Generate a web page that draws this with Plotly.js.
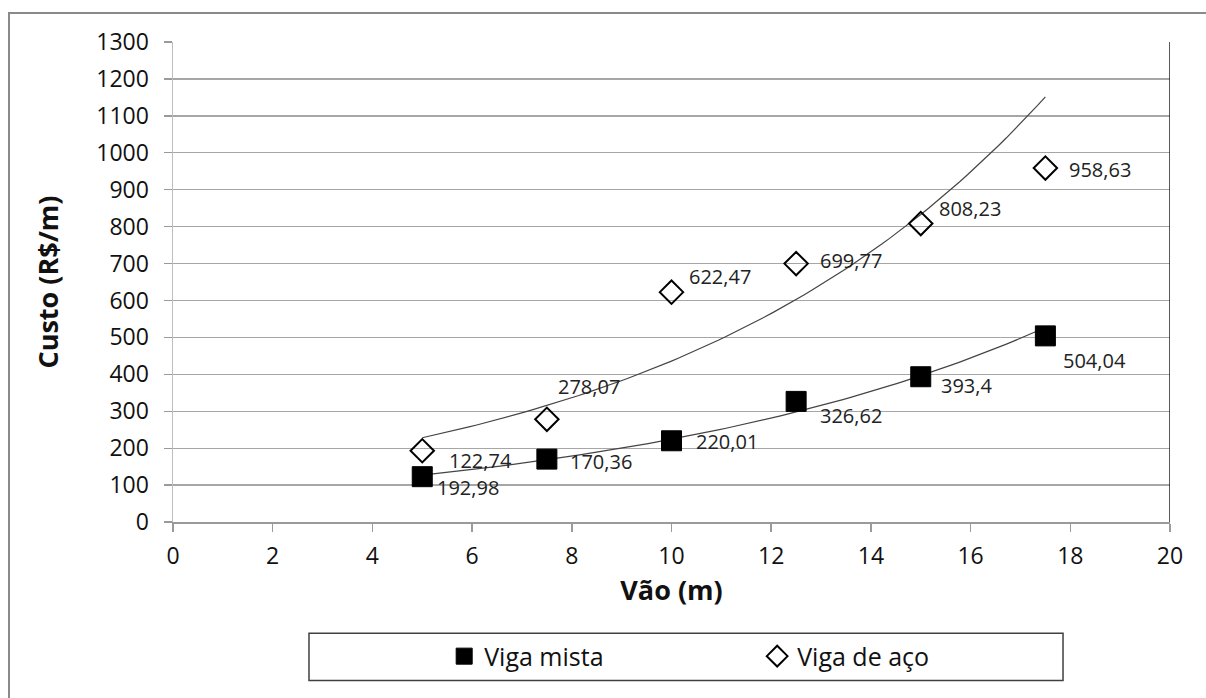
<!DOCTYPE html>
<html>
<head>
<meta charset="utf-8">
<script src="https://cdn.plot.ly/plotly-3.0.1.min.js"></script>
<style>
  html, body { margin: 0; padding: 0; background: #fff; overflow: hidden; }
  #wrap { position: relative; width: 1206px; height: 698px; }
  #chart { position: absolute; left: 0; top: 0; width: 1206px; height: 698px; }
  #frame { position: absolute; left: 8px; top: 12px; width: 1300px; height: 800px;
           border-left: 2px solid #8a8a8a; border-top: 2px solid #8a8a8a; pointer-events: none; }
</style>
</head>
<body>
<div id="wrap">
  <div id="chart"></div>
  <div id="frame"></div>
</div>
<script>
// ---- data ----
const vao = [5, 7.5, 10, 12.5, 15, 17.5];
const custoMista = [122.74, 170.36, 220.01, 326.62, 393.4, 504.04];
const custoAco = [192.98, 278.07, 622.47, 699.77, 808.23, 958.63];
const rotulosMista = ['192,98', '170,36', '220,01', '326,62', '393,4', '504,04'];
const rotulosAco = ['122,74', '278,07', '622,47', '699,77', '808,23', '958,63'];
const serieMista = 'Viga mista';
const serieAco = 'Viga de aço';
const tituloX = 'Vão (m)';
const tituloY = 'Custo (R$/m)';

// label offsets in pixels (style only)
const offMista = [[13, -11], [21, -2], [22, -1], [22, -14], [18, -9], [16, -25]];
const offAco = [[25, -10], [9, 33], [15, 16], [22, 3], [16, 15], [22, -1]];

// exponential trendline (least squares on ln y), like Excel
function expTrend(xs, ys) {
  const n = xs.length;
  const ly = ys.map(v => Math.log(v));
  const mx = xs.reduce((a, b) => a + b, 0) / n;
  const my = ly.reduce((a, b) => a + b, 0) / n;
  let sxy = 0, sxx = 0;
  for (let i = 0; i < n; i++) { sxy += (xs[i] - mx) * (ly[i] - my); sxx += (xs[i] - mx) ** 2; }
  const b = sxy / sxx, a = my - b * mx;
  const x0 = Math.min(...xs), x1 = Math.max(...xs);
  const tx = [], ty = [];
  const steps = 80;
  for (let k = 0; k <= steps; k++) {
    const x = x0 + (x1 - x0) * k / steps;
    tx.push(x); ty.push(Math.exp(a + b * x));
  }
  return { x: tx, y: ty };
}
const tM = expTrend(vao, custoMista);
const tA = expTrend(vao, custoAco);

const FONT = 'Open Sans, Lato, sans-serif';

const traces = [
  { x: tM.x, y: tM.y, mode: 'lines', line: { color: '#444', width: 1.2 }, showlegend: false, hoverinfo: 'skip' },
  { x: tA.x, y: tA.y, mode: 'lines', line: { color: '#444', width: 1.2 }, showlegend: false, hoverinfo: 'skip' },
  { x: vao, y: custoMista, name: serieMista, mode: 'markers', type: 'scatter',
    marker: { symbol: 'square', size: 20, color: '#000', line: { color: '#000', width: 1 } } },
  { x: vao, y: custoAco, name: serieAco, mode: 'markers', type: 'scatter',
    marker: { symbol: 'diamond-open', size: 18, color: '#000', line: { color: '#000', width: 2 } } }
];

const annotations = [];
vao.forEach((x, i) => {
  annotations.push({ x: x, y: custoMista[i], xref: 'x', yref: 'y', text: rotulosMista[i], showarrow: false,
    xanchor: 'left', yanchor: 'middle', xshift: offMista[i][0], yshift: offMista[i][1],
    font: { family: FONT, size: 20, color: '#222' } });
  annotations.push({ x: x, y: custoAco[i], xref: 'x', yref: 'y', text: rotulosAco[i], showarrow: false,
    xanchor: 'left', yanchor: 'middle', xshift: offAco[i][0], yshift: offAco[i][1],
    font: { family: FONT, size: 20, color: '#222' } });
});

const layout = {
  width: 1206, height: 698,
  margin: { l: 173, r: 36, t: 42, b: 176 },
  paper_bgcolor: '#fff', plot_bgcolor: '#fff',
  font: { family: FONT, color: '#111' },
  showlegend: true,
  legend: {
    orientation: 'h', x: 0.272, xanchor: 'left', y: -0.28, yanchor: 'middle',
    bgcolor: 'rgba(0,0,0,0)', borderwidth: 0,
    font: { family: FONT, size: 25, color: '#111' },
    entrywidth: 268, entrywidthmode: 'pixels'
  },
  xaxis: {
    range: [0, 20], dtick: 2, tick0: 0,
    showgrid: false, zeroline: false,
    showline: true, linecolor: '#9a9a9a', linewidth: 1.5,
    ticks: 'outside', ticklen: 8, tickcolor: '#9a9a9a', tickwidth: 1.5,
    ticklabelstandoff: 5,
    tickfont: { family: FONT, size: 23, color: '#111' },
    title: { text: tituloX, font: { family: FONT, size: 27, color: '#111', weight: 'bold' }, standoff: 10 }
  },
  yaxis: {
    range: [0, 1300], dtick: 100, tick0: 0,
    showgrid: true, gridcolor: '#a6a6a6', gridwidth: 1.3,
    zeroline: false,
    showline: true, linecolor: '#bdbdbd', linewidth: 1.5,
    ticks: 'outside', ticklen: 8, tickcolor: '#9a9a9a', tickwidth: 1.3,
    ticklabelstandoff: 10,
    tickfont: { family: FONT, size: 23, color: '#111' },
    title: { text: tituloY, font: { family: FONT, size: 27, color: '#111', weight: 'bold' }, standoff: 30 }
  },
  shapes: [
    { type: 'line', xref: 'x', yref: 'y', x0: 20, x1: 20, y0: 0, y1: 1300, line: { color: '#222', width: 1.5 } },
    { type: 'rect', xref: 'paper', yref: 'paper', x0: 0.1364, x1: 0.8927, y0: -0.232, y1: -0.330,
      line: { color: '#404040', width: 1.5 }, fillcolor: 'rgba(0,0,0,0)' }
  ],
  annotations: annotations
};

Plotly.newPlot('chart', traces, layout, { staticPlot: true, displayModeBar: false });
</script>
</body>
</html>
